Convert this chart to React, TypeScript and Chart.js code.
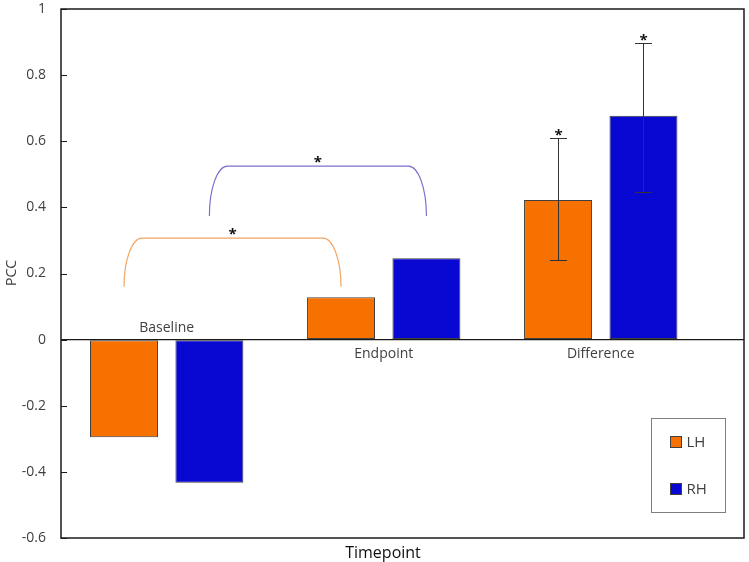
import React, { useEffect, useRef } from 'react';
import { Chart, registerables } from 'chart.js';

Chart.register(...registerables);

// ---- data ----
const categories = ['Baseline', 'Endpoint', 'Difference'];
const seriesNames = ['LH', 'RH'];
const lhValues = [-0.295, 0.128, 0.422];
const rhValues = [-0.433, 0.246, 0.677];
const lhErrUpper: (number | null)[] = [null, null, 0.611];
const lhErrLower: (number | null)[] = [null, null, 0.241];
const rhErrUpper: (number | null)[] = [null, null, 0.898];
const rhErrLower: (number | null)[] = [null, null, 0.446];
const yMin = -0.6;
const yMax = 1;
const yStep = 0.2;
// significance brackets between Baseline and Endpoint, one per series
const bracketSeries = [0, 1];
const bracketFrom = [0, 0];
const bracketTo = [1, 1];
const bracketLow = [0.16, 0.374];
const bracketHigh = [0.307, 0.525];
const xTitle = 'Timepoint';
const yTitle = 'PCC';

// ---- styles ----
const FONT = '"Open Sans", "Noto Sans", sans-serif';
const TEXT = '#404040';
const ORANGE = '#F77100';
const BLUE = '#0808D2';
const BRACKET_COLORS = ['#F0A462', '#7C70CC'];

const annotations = {
  id: 'annotations',
  afterDatasetsDraw(chart: any) {
    const { ctx, scales } = chart;
    const y = scales.y;
    ctx.save();
    const star = (cx: number, cy: number) => {
      ctx.fillStyle = '#111';
      ctx.font = `bold 15px ${FONT}`;
      ctx.textAlign = 'center';
      ctx.textBaseline = 'alphabetic';
      ctx.fillText('*', cx, cy + 9);
    };
    // error bars
    const errs = [
      [lhErrUpper, lhErrLower],
      [rhErrUpper, rhErrLower],
    ];
    errs.forEach(([up, lo], di) => {
      const meta = chart.getDatasetMeta(di);
      up.forEach((u, i) => {
        const l = lo[i];
        if (u == null || l == null) return;
        const bx = Math.round(meta.data[i].x) + 0.5;
        const yu = Math.round(y.getPixelForValue(u)) + 0.5;
        const yl = Math.round(y.getPixelForValue(l)) + 0.5;
        ctx.strokeStyle = '#333';
        ctx.lineWidth = 1;
        ctx.beginPath();
        ctx.moveTo(bx, yu);
        ctx.lineTo(bx, yl);
        ctx.moveTo(bx - 8.5, yu);
        ctx.lineTo(bx + 8.5, yu);
        ctx.moveTo(bx - 8.5, yl);
        ctx.lineTo(bx + 8.5, yl);
        ctx.stroke();
        star(bx, yu - 8);
      });
    });
    // brackets
    bracketSeries.forEach((di, k) => {
      const meta = chart.getDatasetMeta(di);
      const x1 = meta.data[bracketFrom[k]].x;
      const x2 = meta.data[bracketTo[k]].x;
      const yb = y.getPixelForValue(bracketLow[k]);
      const yt = y.getPixelForValue(bracketHigh[k]);
      const rx = 18;
      const ry = yb - yt;
      ctx.strokeStyle = BRACKET_COLORS[k];
      ctx.lineWidth = 1.2;
      ctx.beginPath();
      ctx.ellipse(x1 + rx, yb, rx, ry, 0, Math.PI, Math.PI * 1.5);
      ctx.lineTo(x2 - rx, yt);
      ctx.ellipse(x2 - rx, yb, rx, ry, 0, Math.PI * 1.5, Math.PI * 2);
      ctx.stroke();
      star((x1 + x2) / 2, yt - 8);
    });
    ctx.restore();
  },
  afterDraw(chart: any) {
    const { ctx, chartArea: ca, scales } = chart;
    const x = scales.x;
    const y = scales.y;
    ctx.save();
    // frame
    ctx.strokeStyle = '#1a1a1a';
    ctx.lineWidth = 1.5;
    ctx.strokeRect(ca.left, ca.top, ca.right - ca.left, ca.bottom - ca.top);
    // inward tick marks on the value axis
    ctx.lineWidth = 1;
    ctx.beginPath();
    y.ticks.forEach((t: any) => {
      const py = Math.round(y.getPixelForValue(t.value)) + 0.5;
      ctx.moveTo(ca.left, py);
      ctx.lineTo(ca.left + 6, py);
    });
    ctx.stroke();
    // category labels near the zero line
    const y0 = y.getPixelForValue(0);
    ctx.fillStyle = TEXT;
    ctx.font = `14px ${FONT}`;
    ctx.textAlign = 'center';
    ctx.textBaseline = 'middle';
    categories.forEach((c, i) => {
      const cx = x.getPixelForValue(i);
      const cy = i === 0 ? y0 - 12 : y0 + 14;
      ctx.fillText(c, cx, cy);
    });
    // axis titles
    ctx.font = `16px ${FONT}`;
    ctx.fillStyle = '#111';
    ctx.fillText(xTitle, 383, 553);
    ctx.save();
    ctx.translate(12, 273);
    ctx.rotate(-Math.PI / 2);
    ctx.font = `14px ${FONT}`;
    ctx.fillStyle = TEXT;
    ctx.fillText(yTitle, 0, 0);
    ctx.restore();
    // legend
    const lx = ca.right - 92.5;
    const ly = ca.top + 409.5;
    ctx.strokeStyle = '#7f7f7f';
    ctx.lineWidth = 1;
    ctx.strokeRect(lx, ly, 74, 94);
    const colors = [ORANGE, BLUE];
    seriesNames.forEach((n, i) => {
      const sy = ly + 18 + i * 47;
      ctx.fillStyle = colors[i];
      ctx.fillRect(lx + 19, sy, 11, 11);
      ctx.strokeStyle = '#404040';
      ctx.strokeRect(lx + 19, sy, 11, 11);
      ctx.fillStyle = TEXT;
      ctx.font = `15px ${FONT}`;
      ctx.textAlign = 'left';
      ctx.textBaseline = 'middle';
      ctx.fillText(n, lx + 35, sy + 6);
    });
    ctx.restore();
  },
};

export default function App() {
  const ref = useRef<HTMLCanvasElement>(null);
  useEffect(() => {
    if (!ref.current) return;
    const chart = new Chart(ref.current, {
      type: 'bar',
      data: {
        datasets: [
          {
            label: seriesNames[0],
            data: categories.map((_, i) => ({ x: i, y: lhValues[i] })),
            backgroundColor: ORANGE,
            borderColor: '#404040',
            borderWidth: 1,
            borderSkipped: false,
          },
          {
            label: seriesNames[1],
            data: categories.map((_, i) => ({ x: i, y: rhValues[i] })),
            backgroundColor: BLUE,
            borderColor: '#404040',
            borderWidth: 1,
            borderSkipped: false,
          },
        ],
      },
      options: {
        responsive: false,
        animation: false,
        categoryPercentage: 0.787,
        barPercentage: 0.796,
        layout: { padding: { top: 9, right: 5, bottom: 24, left: 0 } },
        plugins: { legend: { display: false }, tooltip: { enabled: false } },
        scales: {
          x: {
            type: 'linear',
            display: false,
            offset: false,
            grid: { offset: false },
            min: -0.487,
            max: 2.66,
            afterBuildTicks: (s: any) => {
              s.ticks = categories.map((_, i) => ({ value: i }));
            },
          },
          y: {
            min: yMin,
            max: yMax,
            border: { display: false },
            grid: {
              color: (c: any) => (c.tick && Math.abs(c.tick.value) < 1e-9 ? '#1a1a1a' : 'rgba(0,0,0,0)'),
              lineWidth: 1.3,
              drawTicks: false,
            },
            ticks: {
              stepSize: yStep,
              padding: 15,
              color: TEXT,
              font: { family: FONT, size: 14 },
              callback: (v: any) => String(Math.round(Number(v) * 10) / 10),
            },
            afterFit: (s: any) => {
              s.width = 61;
              s.paddingTop = 0;
              s.paddingBottom = 0;
            },
          },
        },
      } as any,
      plugins: [annotations],
    });
    return () => chart.destroy();
  }, []);
  return (
    <div style={{ position: 'fixed', left: 0, top: 0, width: 749, height: 562, background: '#fff' }}>
      <canvas ref={ref} width={749} height={562} style={{ display: 'block' }} />
    </div>
  );
}
